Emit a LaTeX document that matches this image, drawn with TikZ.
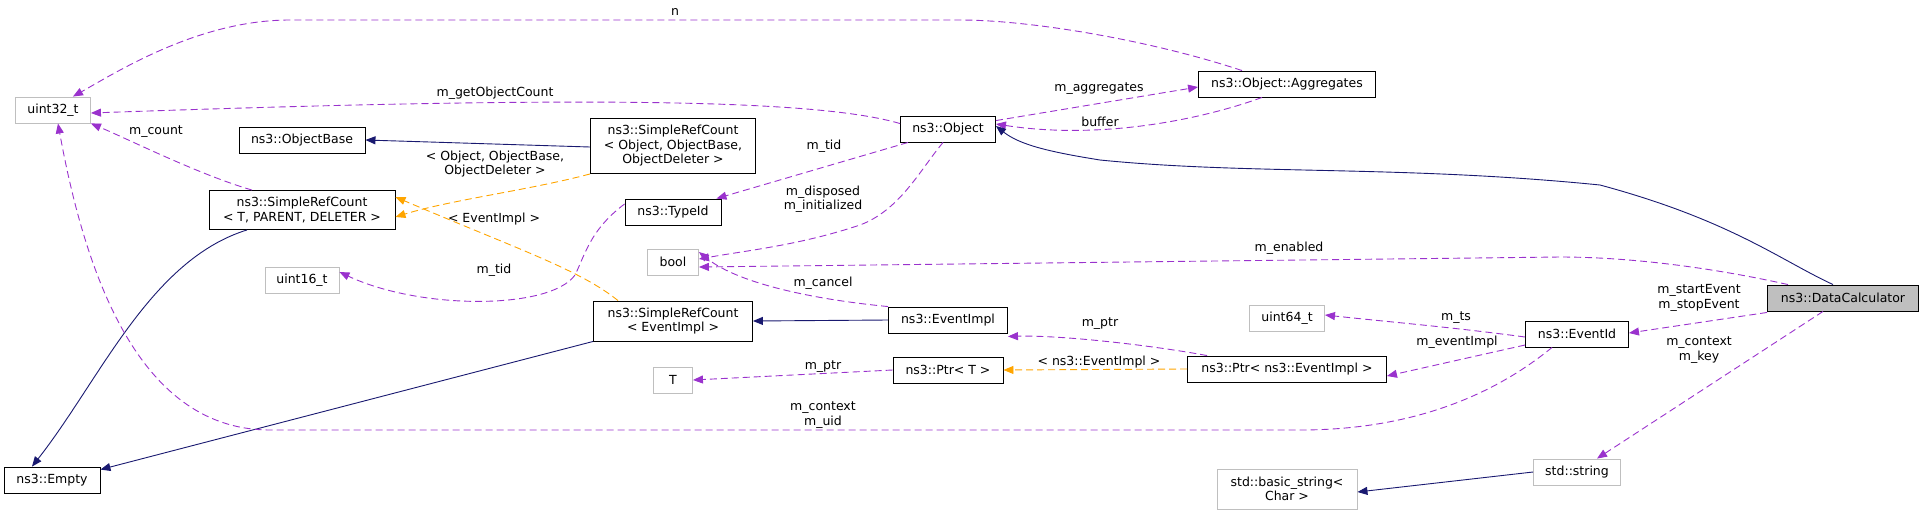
\documentclass[tikz,border=0pt]{standalone}
\usepackage{fontspec}
\setmainfont{DejaVu Sans}
\usetikzlibrary{arrows.meta}
\definecolor{pur}{HTML}{9A32CD}
\definecolor{nav}{HTML}{191970}
\definecolor{org}{HTML}{FFA500}
\definecolor{gr}{HTML}{BFBFBF}
\begin{document}
\begin{tikzpicture}[x=1pt,y=-1pt,
  font=\fontsize{12.5}{14.5}\selectfont,
  box/.style={draw=black,line width=0.9pt,minimum height=26pt,inner sep=2pt,align=center,fill=white},
  gbox/.style={box,draw=gr},
  mem/.style={draw=pur,line width=0.9pt,dash pattern=on 7pt off 4pt,-{Triangle[length=10pt,width=8pt]}},
  inh/.style={draw=nav,line width=0.9pt,-{Triangle[length=10pt,width=8pt]},fill=none},
  tpl/.style={draw=org,line width=0.9pt,dash pattern=on 7pt off 4pt,-{Triangle[length=10pt,width=8pt]}},
  lab/.style={align=center,inner sep=1pt}]
\useasboundingbox (0,0) rectangle (1924,515);
\node[gbox,minimum width=75pt] (u32) at (53,110) {uint32\_t};
\node[box,minimum width=126pt] (ob) at (302,140) {ns3::ObjectBase};
\node[box,minimum width=186pt,minimum height=39pt] (srct) at (302,210) {ns3::SimpleRefCount\\< T, PARENT, DELETER >};
\node[gbox,minimum width=74pt] (u16) at (302,280) {uint16\_t};
\node[box,minimum width=96pt] (empty) at (52,480) {ns3::Empty};
\node[gbox,minimum width=39pt] (T) at (673,380) {T};
\node[gbox,minimum width=51pt] (bool) at (673,262) {bool};
\node[box,minimum width=165pt,minimum height=55pt] (srco) at (673,146) {ns3::SimpleRefCount\\< Object, ObjectBase,\\ ObjectDeleter >};
\node[box,minimum width=95pt] (obj) at (948,129) {ns3::Object};
\node[box,minimum width=177pt] (agg) at (1287,84) {ns3::Object::Aggregates};
\node[box,minimum width=96pt] (tid) at (673,212) {ns3::TypeId};
\node[box,minimum width=159pt,minimum height=40pt] (srce) at (673,321) {ns3::SimpleRefCount\\< EventImpl >};
\node[box,minimum width=119pt] (ei) at (948,320) {ns3::EventImpl};
\node[box,minimum width=110pt] (ptrt) at (948,370) {ns3::Ptr< T >};
\node[box,minimum width=199pt] (ptre) at (1287,369) {ns3::Ptr< ns3::EventImpl >};
\node[gbox,minimum width=75pt] (u64) at (1287,318) {uint64\_t};
\node[gbox,minimum width=140pt,minimum height=40pt] (bs) at (1287,489) {std::basic\_string<\\ Char >};
\node[box,minimum width=103pt] (eid) at (1577,334) {ns3::EventId};
\node[gbox,minimum width=87pt] (str) at (1577,472) {std::string};
\node[box,fill=gr,minimum width=151pt] (dc) at (1843,298) {ns3::DataCalculator};
% edges
\draw[mem] ([xshift=-45pt]agg.north) .. controls (1150,40) and (1030,20) .. (960,20) -- (290,20) .. controls (200,20) and (120,70) .. ([xshift=-18pt]u32.north east);
\draw[mem] ([yshift=-8pt]obj.north west) .. controls (820,100) and (600,95) .. ([yshift=-3pt]u32.east);
\draw[mem] ([xshift=-50pt]srct.north) .. controls (200,175) and (130,140) .. (u32.south east);
\draw[inh] ([yshift=-1pt]srco.west) -- (ob.east);
\draw[tpl] (srco.south west) .. controls (530,190) and (450,200) .. ([yshift=-7pt]srct.east);
\draw[tpl] ([xshift=-55pt]srce.north) .. controls (580,270) and (520,250) .. ([yshift=13pt]srct.east);
\draw[inh] ([xshift=-55pt]srct.south) .. controls (150,260) and (100,380) .. ([xshift=-20pt]empty.north);
\draw[inh] (srce.south west) -- ([yshift=-3pt]empty.north east);
\draw[mem] ([xshift=-25pt]eid.south) .. controls (1500,390) and (1420,430) .. (1300,430) -- (270,430) .. controls (150,430) and (90,300) .. ([xshift=5pt]u32.south);
\draw[mem] ([yshift=8pt]tid.west) .. controls (590,230) and (585,255) .. (575,275) .. controls (550,310) and (420,310) .. ([yshift=8pt]u16.east);
\draw[mem] ([xshift=-40pt]obj.south) -- ([xshift=-5pt]tid.north east);
\draw[mem] ([xshift=-5pt]obj.south) .. controls (920,170) and (900,210) .. (860,225) .. controls (800,245) and (750,250) .. ([yshift=3pt]bool.east);
\draw[mem] ([xshift=-55pt]dc.north) .. controls (1700,265) and (1620,257) .. (1560,257) -- ([yshift=-5pt]bool.east);
\draw[mem] (ei.north west) .. controls (820,300) and (740,285) .. ([yshift=10pt]bool.east);
\draw[inh] (ei.west) -- (srce.east);
\draw[mem] ([xshift=20pt]ptre.north west) .. controls (1150,345) and (1060,335) .. ([yshift=-3pt]ei.south east);
\draw[tpl] (ptre.west) -- (ptrt.east);
\draw[mem] (ptrt.west) -- (T.east);
\draw[mem] ([yshift=-5pt]obj.north east) -- ([yshift=-3pt]agg.west);
\draw[mem] ([xshift=-25pt]agg.south) .. controls (1200,120) and (1100,140) .. ([yshift=5pt]obj.east);
\draw[inh] ([xshift=-10pt]dc.north) .. controls (1780,260) and (1730,220) .. (1600,185) .. controls (1400,165) and (1250,175) .. (1100,160) .. controls (1050,152) and (1020,145) .. ([yshift=3pt]obj.east);
\draw[mem] ([yshift=-3pt]eid.west) .. controls (1450,327) and (1400,323) .. ([yshift=3pt]u64.east);
\draw[mem] ([yshift=-11pt]eid.west) -- ([yshift=-7pt]ptre.east);
\draw[mem] ([yshift=-1pt]dc.south west) -- ([yshift=1pt]eid.east);
\draw[mem] ([xshift=-20pt]dc.south) -- ([xshift=20pt]str.north);
\draw[inh] (str.west) -- ([yshift=-3pt]bs.east);
% labels
\node[lab] (l1) at (675,12) {n};
\node[lab] (l2) at (495,93) {m\_getObjectCount};
\node[lab] (l3) at (156,132) {m\_count};
\node[lab] (l4) at (495,164) {< Object, ObjectBase,\\ObjectDeleter >};
\node[lab] (l5) at (494,219) {< EventImpl >};
\node[lab] (l6) at (494,270) {m\_tid};
\node[lab] (l7) at (1099,89) {m\_aggregates};
\node[lab] (l8) at (1100,122) {buffer};
\node[lab] (l9) at (824,146) {m\_tid};
\node[lab] (l10) at (823,199) {m\_disposed\\m\_initialized};
\node[lab] (l11) at (823,283) {m\_cancel};
\node[lab] (l12) at (1100,324) {m\_ptr};
\node[lab] (l13) at (823,367) {m\_ptr};
\node[lab] (l14) at (1099,362) {< ns3::EventImpl >};
\node[lab] (l15) at (823,415) {m\_context\\m\_uid};
\node[lab] (l16) at (1289,248) {m\_enabled};
\node[lab] (l17) at (1699,298) {m\_startEvent\\m\_stopEvent};
\node[lab] (l18) at (1456,318) {m\_ts};
\node[lab] (l19) at (1457,342) {m\_eventImpl};
\node[lab] (l20) at (1699,350) {m\_context\\m\_key};
\end{tikzpicture}
\end{document}
